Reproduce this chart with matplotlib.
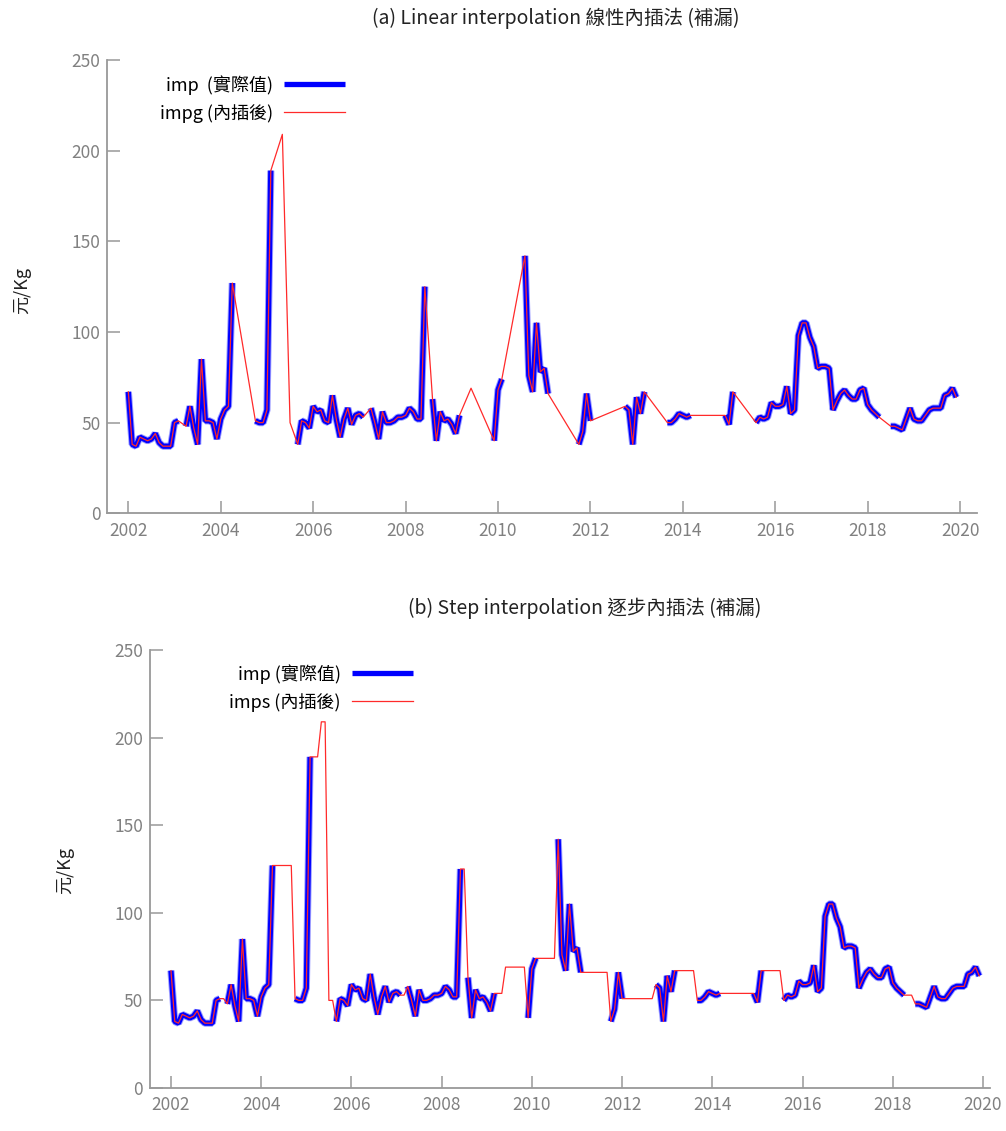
import numpy as np
import pandas as pd
import matplotlib
matplotlib.use('Agg')
import matplotlib.pyplot as plt

plt.rcParams['font.family'] = ['Noto Sans CJK TC', 'DejaVu Sans']

nan = np.nan
# monthly values, Jan 2002 .. Dec 2019 (nan = missing)
imp_2002 = [67, 38, 37, 42, 41, 40, 41, 44, 39, 37, 37, 37]
imp_2003 = [50, 51, nan, 48, 59, 47, 38, 85, 51, 51, 50, 41]
imp_2004 = [52, 57, 59, 127, nan, nan, nan, nan, nan, 51, 50, 50]
imp_2005 = [57, 189, nan, nan, 209, nan, 50, nan, 38, 51, 50, 47]
imp_2006 = [59, 56, 57, 51, 50, 65, 52, 42, 52, 58, 49, 54]
imp_2007 = [55, 53, nan, 58, 50, 41, 56, 50, 50, 51, 53, 53]
imp_2008 = [54, 58, 56, 52, 52, 125, nan, 63, 40, 56, 51, 52]
imp_2009 = [49, 44, 54, nan, nan, 69, nan, nan, nan, nan, nan, 40]
imp_2010 = [68, 74, nan, nan, nan, nan, nan, 142, 76, 67, 105, 78]
imp_2011 = [80, 66, nan, nan, nan, nan, nan, nan, nan, 38, 45, 66]
imp_2012 = [51, nan, nan, nan, nan, nan, nan, nan, nan, 59, 57, 38]
imp_2013 = [64, 55, 67, nan, nan, nan, nan, nan, 50, 50, 52, 55]
imp_2014 = [54, 53, 54, nan, nan, nan, nan, nan, nan, nan, nan, 54]
imp_2015 = [49, 67, nan, nan, nan, nan, nan, 50, 53, 52, 53, 61]
imp_2016 = [59, 59, 60, 70, 55, 57, 98, 105, 105, 97, 92, 80]
imp_2017 = [81, 81, 80, 57, 62, 66, 68, 65, 63, 63, 68, 69]
imp_2018 = [60, 57, 55, 53, nan, nan, 48, 48, 47, 46, 52, 58]
imp_2019 = [52, 51, 51, 54, 57, 58, 58, 58, 65, 66, 69, 64]

imp = np.array(imp_2002 + imp_2003 + imp_2004 + imp_2005 + imp_2006 + imp_2007
               + imp_2008 + imp_2009 + imp_2010 + imp_2011 + imp_2012 + imp_2013
               + imp_2014 + imp_2015 + imp_2016 + imp_2017 + imp_2018 + imp_2019, dtype=float)
t = 2002 + np.arange(len(imp)) / 12.0

s = pd.Series(imp)
impg = s.interpolate(method='linear').values   # linear fill
imps = s.ffill().values                        # step fill

xticks = list(range(2002, 2021, 2))
yticks = [0, 50, 100, 150, 200, 250]

W, H = 1006, 1131
fig = plt.figure(figsize=(W / 100, H / 100), dpi=100)

gray = '#999999'


def style(ax, xlim):
    ax.set_xlim(*xlim)
    ax.set_ylim(0, 250)
    ax.set_xticks(xticks)
    ax.set_yticks(yticks)
    for side in ['top', 'right']:
        ax.spines[side].set_visible(False)
    for side in ['left', 'bottom']:
        ax.spines[side].set_color(gray)
        ax.spines[side].set_linewidth(1.3)
    ax.tick_params(direction='in', length=9, width=1.1, color=gray,
                   labelcolor='#808080', labelsize=12.5)
    ax.tick_params(axis='x', pad=6)
    ax.tick_params(axis='y', pad=5)


def draw(ax, filled, lab_imp, lab_fill):
    # soft halo + core for the actual values, thin red for the filled series
    ax.plot(t, imp, color='#5050ff', lw=5.2, alpha=0.55, solid_capstyle='butt',
            solid_joinstyle='bevel', zorder=1)
    ax.plot(t, imp, color='#0000ff', lw=3.8, label=lab_imp, solid_capstyle='butt',
            solid_joinstyle='bevel', zorder=2)
    ax.plot(t, filled, color='#ff2a2a', lw=0.9, label=lab_fill, zorder=3)


# (a) linear
ax1 = fig.add_axes([107.3 / W, 1 - 513.3 / H, 869.4 / W, 453.3 / H])
style(ax1, (2001.545, 2020.36))
draw(ax1, impg, 'imp  (實際值)', 'impg (內插後)')
ax1.legend(loc='upper right', bbox_to_anchor=(345 / W, 1 - 75 / H),
           bbox_transform=fig.transFigure, frameon=False, markerfirst=False,
           fontsize=13, handlelength=3.4, handletextpad=0.6, labelspacing=0.5,
           borderpad=0, borderaxespad=0)
fig.text(556 / W, 1 - 18 / H, '(a) Linear interpolation 線性內插法 (補漏)',
         ha='center', va='center', fontsize=14, color='#222222')
fig.text(22 / W, 1 - 290 / H, '元/Kg', rotation=90, ha='center', va='center',
         fontsize=13, color='#222222')

# (b) step
ax2 = fig.add_axes([150 / W, 1 - 1088 / H, 840 / W, 438 / H])
style(ax2, (2001.535, 2020.155))
draw(ax2, imps, 'imp (實際值)', 'imps (內插後)')
ax2.legend(loc='upper right', bbox_to_anchor=(413 / W, 1 - 664 / H),
           bbox_transform=fig.transFigure, frameon=False, markerfirst=False,
           fontsize=13, handlelength=3.4, handletextpad=0.6, labelspacing=0.5,
           borderpad=0, borderaxespad=0)
fig.text(585 / W, 1 - 608 / H, '(b) Step interpolation 逐步內插法 (補漏)',
         ha='center', va='center', fontsize=14, color='#222222')
fig.text(65 / W, 1 - 870 / H, '元/Kg', rotation=90, ha='center', va='center',
         fontsize=13, color='#222222')

fig.savefig('out.png', dpi=100)
